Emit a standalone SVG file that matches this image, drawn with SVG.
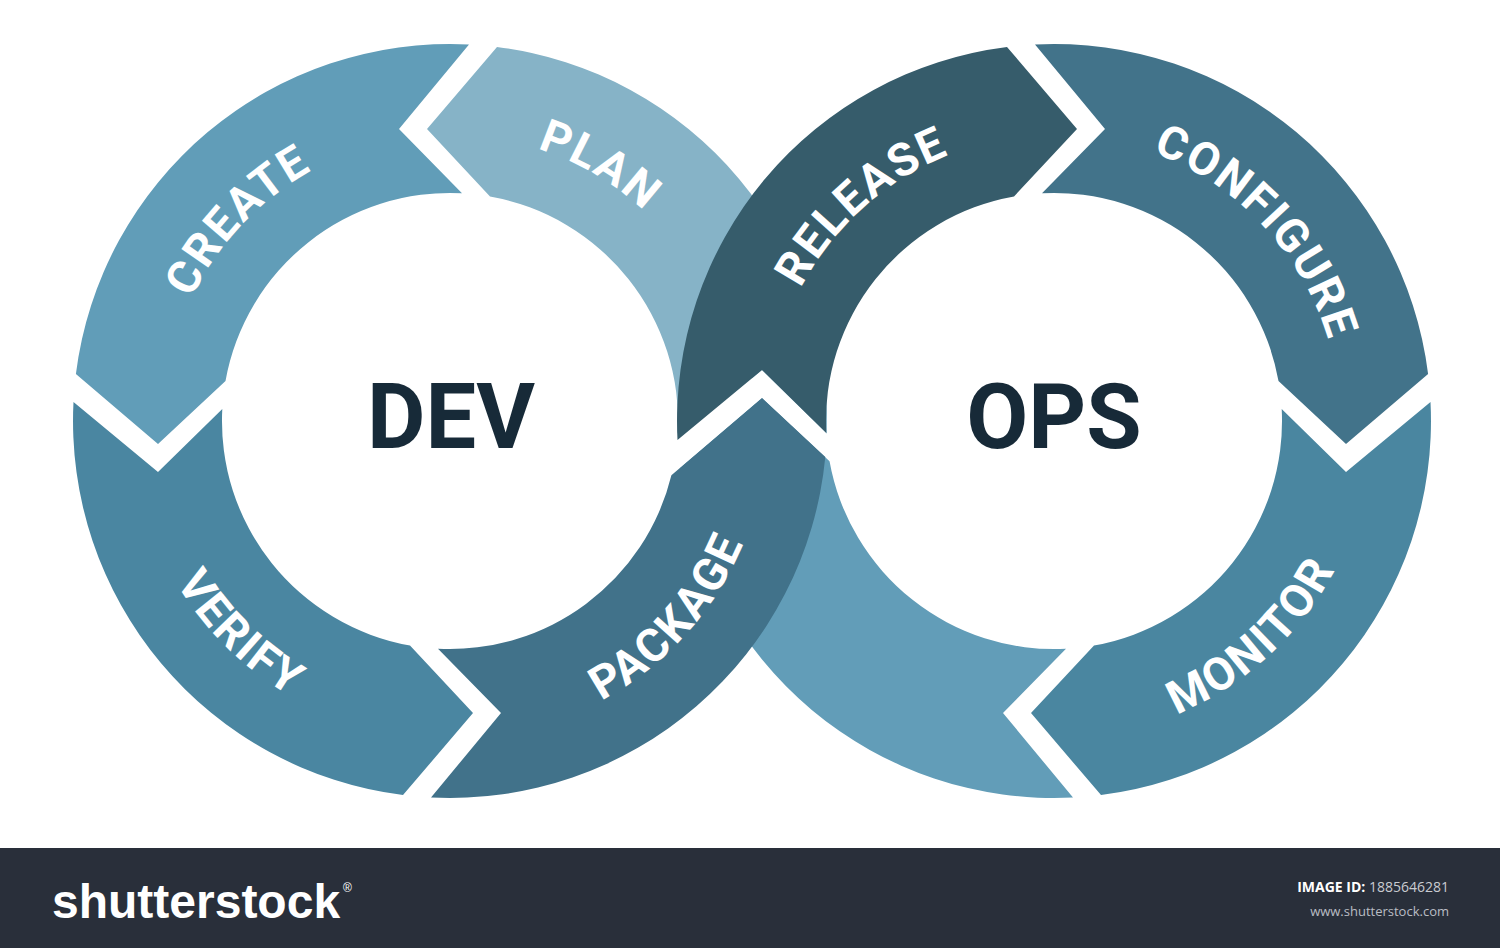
<svg xmlns="http://www.w3.org/2000/svg" width="1500" height="948" viewBox="0 0 1500 948">
<defs>
<style>
.lbl{font-family:Roboto,"Liberation Sans",sans-serif;font-weight:700;font-size:46px;fill:#ffffff;letter-spacing:2px}
.hub{font-family:Roboto,"Liberation Sans",sans-serif;font-weight:700;font-size:90px;fill:#172a38}
.ft{font-family:"Open Sans","Liberation Sans",sans-serif}
</style>
<path id="tPlan" d="M402.3,139 A286,286 0 0 1 719.4,325.1"/>
<path id="tCreate" d="M164.5,404 A286,286 0 0 1 417.1,136.9"/>
<path id="tVerify" d="M133.4,450.4 A318,318 0 0 0 424,737.9"/>
<path id="tPackage" d="M494.3,735.9 A318,318 0 0 0 767.8,432.1"/>
<path id="tRelease" d="M770.9,380.2 A286,286 0 0 1 1045,135.1"/>
<path id="tConfigure" d="M1088.9,137.1 A286,286 0 0 1 1339.6,406"/>
<path id="tMonitor" d="M1067.9,738.7 A318,318 0 0 0 1369.3,462.5"/>
</defs>
<rect width="1500" height="948" fill="#ffffff"/>

<g id="plan">
<path fill="#86b3c7" d="M826.5,440 A377,377 0 0 0 497,46.9 L427,129 L490,196.5 A228,228 0 0 1 677.7,433 L742,370 Z"/>
<text class="lbl" text-anchor="middle"><textPath href="#tPlan" startOffset="50%">PLAN</textPath></text>
</g>
<g id="return">
<path fill="#629db8" d="M1073,797.5 A377,377 0 0 1 679.9,468 L762,398 L829.5,461 A228,228 0 0 0 1066,648.7 L1003,713 Z"/>
</g>
<g id="connectors">
<polygon fill="#ffffff" points="669.8,446.4 762,370 833.4,440 835.1,466.2 762,398 663.8,481.7"/>
</g>
<g id="create">
<path fill="#619db8" d="M469,44.5 A377,377 0 0 0 75.9,374 L158,444 L225.5,381 A228,228 0 0 1 462,193.3 L399,129 Z"/>
<text class="lbl" text-anchor="middle"><textPath href="#tCreate" startOffset="50%">CREATE</textPath></text>
</g>
<g id="verify">
<path fill="#4a86a1" d="M73.5,402 A377,377 0 0 0 403,795.1 L473,713 L410,645.5 A228,228 0 0 1 222.3,409 L158,472 Z"/>
<text class="lbl" text-anchor="middle"><textPath href="#tVerify" startOffset="50%">VERIFY</textPath></text>
</g>
<g id="package">
<path fill="#41728a" d="M431,797.5 A377,377 0 0 0 825.3,457 L762,398 L671.4,475.2 A228,228 0 0 1 438,648.7 L501,713 Z"/>
<text class="lbl" text-anchor="middle"><textPath href="#tPackage" startOffset="50%">PACKAGE</textPath></text>
</g>
<g id="release">
<path fill="#365c6b" d="M677.5,440 A377,377 0 0 1 1007,46.9 L1077,129 L1014,196.5 A228,228 0 0 0 826.3,433 L762,370 Z"/>
<text class="lbl" text-anchor="middle"><textPath href="#tRelease" startOffset="50%">RELEASE</textPath></text>
</g>
<g id="configure">
<path fill="#42738a" d="M1035,44.5 A377,377 0 0 1 1428.1,374 L1346,444 L1278.5,381 A228,228 0 0 0 1042,193.3 L1105,129 Z"/>
<text class="lbl" text-anchor="middle"><textPath href="#tConfigure" startOffset="50%">CONFIGURE</textPath></text>
</g>
<g id="monitor">
<path fill="#4a86a0" d="M1430.5,402 A377,377 0 0 1 1101,795.1 L1031,713 L1094,645.5 A228,228 0 0 0 1281.7,409 L1346,472 Z"/>
<text class="lbl" text-anchor="middle"><textPath href="#tMonitor" startOffset="50%">MONITOR</textPath></text>
</g>
<g id="dev"><text class="hub" x="451" y="448" text-anchor="middle">DEV</text></g>
<g id="ops"><text class="hub" x="1054" y="448" text-anchor="middle">OPS</text></g>

<g id="footer">
<rect x="0" y="848" width="1500" height="100" fill="#292f3a"/>
<text x="52" y="918" font-family="'Liberation Sans',sans-serif" font-weight="700" font-size="48" fill="#ffffff">shutterstock<tspan font-size="12" font-weight="400" dx="3" dy="-26">®</tspan></text>
<text class="ft" x="1449" y="892" text-anchor="end" font-size="14" fill="#c9ccd1"><tspan font-weight="700" fill="#ffffff">IMAGE ID:</tspan> 1885646281</text>
<text class="ft" x="1449" y="916" text-anchor="end" font-size="13" fill="#b9bdc4">www.shutterstock.com</text>
</g>
</svg>
